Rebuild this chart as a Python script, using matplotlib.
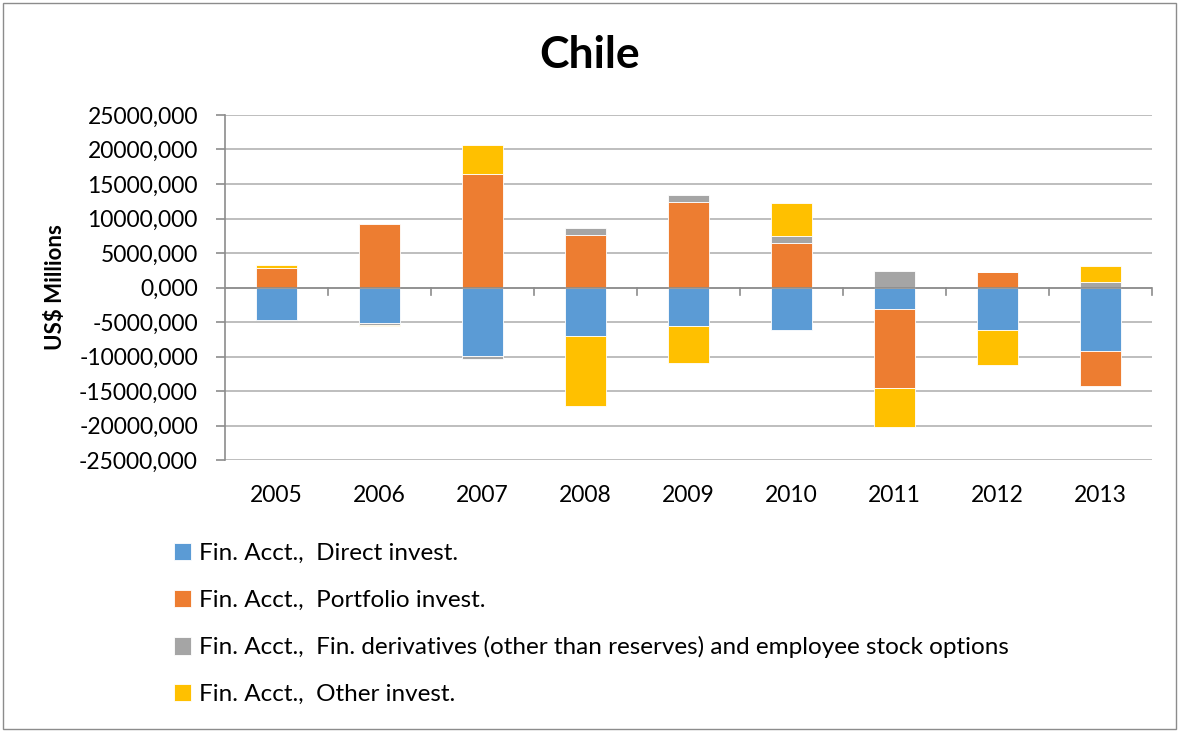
import matplotlib.pyplot as plt
import numpy as np
from matplotlib.ticker import FuncFormatter

plt.rcParams['font.family'] = ['Lato', 'DejaVu Sans']

years = ['2005', '2006', '2007', '2008', '2009', '2010', '2011', '2012', '2013']
direct = [-4750, -5080, -9960, -7060, -5610, -6190, -3150, -6190, -9240]
portfolio = [2840, 9180, 16430, 7630, 12410, 6420, -11410, 2220, -5070]
derivatives = [0, -400, -400, 970, 1020, 980, 2360, 0, 770]
other = [390, -100, 4250, -10110, -5320, 4780, -5650, -5080, 2320]

labels = ['Fin. Acct.,  Direct invest.',
          'Fin. Acct.,  Portfolio invest.',
          'Fin. Acct.,  Fin. derivatives (other than reserves) and employee stock options',
          'Fin. Acct.,  Other invest.']
colors = ['#5B9BD5', '#ED7D31', '#A5A5A5', '#FFC000']

fig = plt.figure(figsize=(11.79, 7.32), dpi=100)
ax = fig.add_axes([225 / 1179, 1 - 460 / 732, 927 / 1179, 345 / 732])

x = np.arange(len(years))
pos_base = np.zeros(len(years))
neg_base = np.zeros(len(years))
for vals, lab, col in zip([direct, portfolio, derivatives, other], labels, colors):
    v = np.array(vals, dtype=float)
    bottom = np.where(v >= 0, pos_base, neg_base)
    ax.bar(x, v, 0.4, bottom=bottom, color=col, label=lab,
           edgecolor='white', linewidth=0.6, zorder=3)
    pos_base += np.where(v > 0, v, 0)
    neg_base += np.where(v < 0, v, 0)

ax.set_xlim(-0.5, 8.5)
ax.set_ylim(-25000, 25000)
ax.set_yticks(np.arange(-25000, 25001, 5000))
ax.yaxis.set_major_formatter(FuncFormatter(lambda v, p: f'{int(v)},000'))
ax.grid(axis='y', color='#B3B3B3', linewidth=1.2, zorder=0)

for s in ['top', 'right', 'bottom']:
    ax.spines[s].set_visible(False)
ax.spines['left'].set_color('#8C8C8C')
ax.spines['left'].set_linewidth(1.2)
ax.axhline(0, color='#8C8C8C', linewidth=1.2, zorder=4)

# category separators hang from the zero line
for b in np.arange(0.5, 8.6, 1.0):
    ax.plot([b, b], [0, -1150], color='#8C8C8C', linewidth=1.2, zorder=4, clip_on=False)

ax.set_xticks(x)
ax.set_xticklabels(years)
ax.tick_params(axis='x', length=0, pad=18, labelsize=16.5)
ax.tick_params(axis='y', length=6.5, width=1.2, color='#8C8C8C', labelsize=16.5, pad=13)
ax.set_ylabel('US$ Millions', fontsize=16, fontweight='bold')
ax.yaxis.set_label_coords(-0.172, 0.5)

fig.suptitle('Chile', x=590 / 1179, y=1 - 55 / 732, va='center', fontsize=32, fontweight='bold')

ax.legend(loc='upper left', bbox_to_anchor=(152 / 1179, 1 - 521 / 732), bbox_transform=fig.transFigure,
          frameon=False, fontsize=17.5, handlelength=0.72, handleheight=0.72, handletextpad=0.3,
          labelspacing=1.05)

fig.patches.append(plt.Rectangle((3 / 1179, 3 / 732), 1173 / 1179, 726 / 732, transform=fig.transFigure,
                                 fill=False, edgecolor='#8C8C8C', linewidth=1))

fig.savefig('out.png', dpi=100)
